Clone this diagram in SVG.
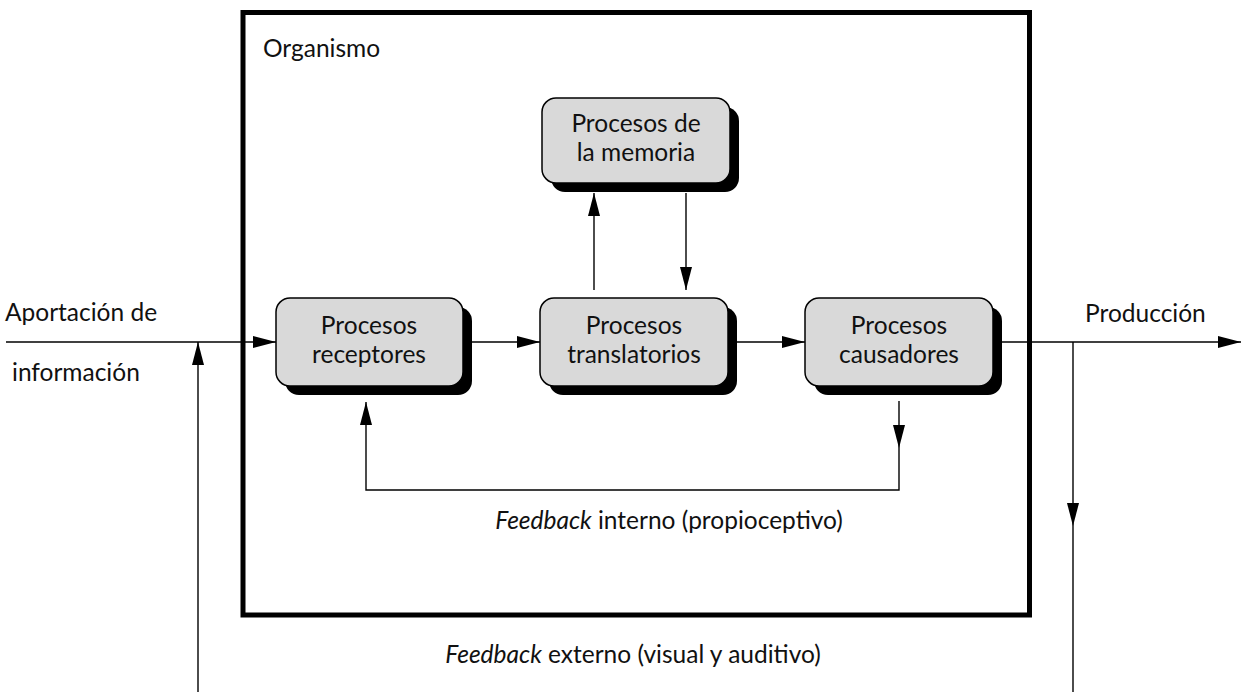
<svg xmlns="http://www.w3.org/2000/svg" width="1241" height="693" viewBox="0 0 1241 693">
  <style>
    text { font-family: Lato, "Open Sans", "Liberation Sans", sans-serif; font-size: 24.5px; fill: #111; }
    .mid { text-anchor: middle; }
    .it { font-style: italic; }
    .shadow { fill: #000; }
    .box { fill: #d9d9d9; stroke: #000; stroke-width: 1.5; }
    .wire { fill: none; stroke: #000; stroke-width: 1.4; }
    .arrow { fill: none; stroke: #000; stroke-width: 1.4; marker-end: url(#head); }
  </style>
  <defs>
    <marker id="head" viewBox="0 0 23 12" refX="23" refY="6" markerWidth="23" markerHeight="12" markerUnits="userSpaceOnUse" orient="auto">
      <path d="M0,0 L23,6 L0,12 Z" fill="#000"/>
    </marker>
  </defs>

  <rect fill="#fff" x="0" y="0" width="1241" height="693"/>

  <!-- organism frame -->
  <g id="organismo">
    <rect x="243" y="12.5" width="786.5" height="602.5" fill="none" stroke="#000" stroke-width="5"/>
    <text x="263" y="57">Organismo</text>
  </g>

  <!-- process boxes -->
  <g id="memoria">
    <rect class="shadow" x="551" y="107" width="188" height="85" rx="14"/>
    <rect class="box" x="542" y="98" width="188" height="85" rx="14"/>
    <text class="mid" x="636" y="132">Procesos de</text>
    <text class="mid" x="636" y="161">la memoria</text>
  </g>

  <g id="receptores">
    <rect class="shadow" x="285" y="307" width="187" height="88" rx="14"/>
    <rect class="box" x="276" y="298" width="187" height="88" rx="14"/>
    <text class="mid" x="369" y="334">Procesos</text>
    <text class="mid" x="369" y="363">receptores</text>
  </g>

  <g id="translatorios">
    <rect class="shadow" x="549" y="307" width="188" height="88" rx="14"/>
    <rect class="box" x="540" y="298" width="188" height="88" rx="14"/>
    <text class="mid" x="634" y="334">Procesos</text>
    <text class="mid" x="634" y="363">translatorios</text>
  </g>

  <g id="causadores">
    <rect class="shadow" x="814" y="307" width="188" height="88" rx="14"/>
    <rect class="box" x="805" y="298" width="188" height="88" rx="14"/>
    <text class="mid" x="899" y="334">Procesos</text>
    <text class="mid" x="899" y="363">causadores</text>
  </g>

  <!-- outside labels -->
  <g id="entrada">
    <text x="5" y="321">Aportación de</text>
    <text x="12" y="381">información</text>
  </g>
  <g id="salida">
    <text x="1085" y="322">Producción</text>
  </g>
  <g id="feedback-labels">
    <text class="mid" x="669" y="529"><tspan class="it">Feedback</tspan> interno (propioceptivo)</text>
    <text class="mid" x="633" y="663"><tspan class="it">Feedback</tspan> externo (visual y auditivo)</text>
  </g>

  <!-- connectors -->
  <g id="connectors">
    <path class="arrow" d="M6,342 L276,342"/>
    <path class="arrow" d="M472,342 L540,342"/>
    <path class="arrow" d="M737,342 L805,342"/>
    <path class="arrow" d="M1002,342 L1241,342"/>
    <path class="arrow" d="M594,290 L594,193"/>
    <path class="arrow" d="M686,193 L686,290"/>
    <!-- internal loop -->
    <path class="arrow" d="M899,401 L899,448"/>
    <path class="arrow" d="M899,448 L899,490 L366,490 L366,402"/>
    <!-- external loop -->
    <path class="arrow" d="M1073,342 L1073,526"/>
    <path class="wire" d="M1073,526 L1073,692"/>
    <path class="arrow" d="M198,692 L198,342"/>
  </g>
</svg>
